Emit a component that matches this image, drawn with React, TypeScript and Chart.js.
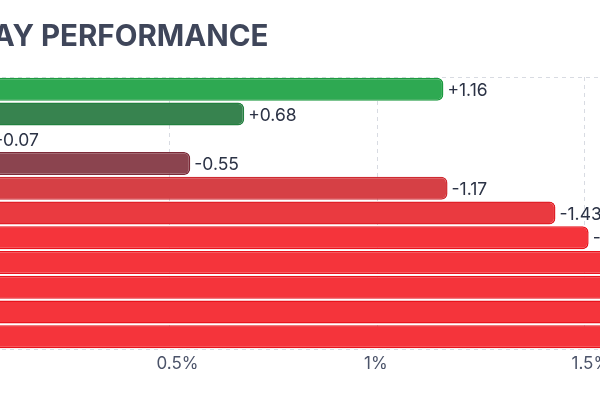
import React, { useEffect, useRef } from "react";
import { Chart, registerables } from "chart.js";

Chart.register(...registerables);

const categories = ["NZD", "AUD", "CAD", "GBP", "EUR", "CHF", "SEK", "NOK", "DKK", "JPY", "CNY"];
const changes = [1.16, 0.68, -0.07, -0.55, -1.17, -1.43, -1.51, -1.62, -1.7, -1.84, -2.12];
const xTicks = [0, 0.5, 1, 1.5, 2];
const titleText = "1-DAY PERFORMANCE";

const AXIS_W = 140;
const PX_PER_UNIT = 415;
const X_MAX = 2;
const RIGHT_PAD = 60;
const CANVAS_W = AXIS_W + PX_PER_UNIT * X_MAX + RIGHT_PAD;
const CANVAS_H = 400;
const SHIFT = AXIS_W + 38.5;
const GRID = "#d8dbe2";

function fillFor(v: number) {
  if (v >= 1) return "#2ea952";
  if (v > 0) return "#37834f";
  if (v > -0.3) return "#6e5358";
  if (v > -1) return "#8b444f";
  if (v > -1.3) return "#d64045";
  if (v > -1.5) return "#ea3a40";
  return "#f5343b";
}
function borderFor(v: number) {
  if (v >= 1) return "#1c9a3f";
  if (v > 0) return "#22803f";
  if (v > -0.3) return "#5e3a40";
  if (v > -1) return "#7b2a38";
  if (v > -1.3) return "#cf2a31";
  if (v > -1.5) return "#e01f27";
  return "#e8131c";
}

const labelPlugin = {
  id: "endLabels",
  afterDatasetsDraw(chart: any) {
    const ctx = chart.ctx;
    const meta = chart.getDatasetMeta(0);
    ctx.save();
    ctx.font = "17.5px Inter";
    ctx.fillStyle = "#2b3245";
    ctx.textBaseline = "middle";
    ctx.textAlign = "left";
    meta.data.forEach((el: any, i: number) => {
      const v = changes[i];
      const t = (v > 0 ? "+" : "") + v.toFixed(2);
      ctx.fillText(t, el.x + 4, el.y + 1.5);
    });
    ctx.restore();
  },
};

const titlePlugin = {
  id: "customTitle",
  afterDraw(chart: any) {
    const ctx = chart.ctx;
    ctx.save();
    ctx.font = "bold 29.5px Inter";
    ctx.fillStyle = "#3f465a";
    ctx.textBaseline = "alphabetic";
    ctx.textAlign = "right";
    ctx.fillText(titleText, SHIFT + 268, 46);
    ctx.restore();
  },
};

export default function App() {
  const ref = useRef<HTMLCanvasElement>(null);
  useEffect(() => {
    if (!ref.current) return;
    const chart = new Chart(ref.current, {
      type: "bar",
      data: {
        labels: categories,
        datasets: [
          {
            data: changes.map((v) => Math.abs(v)),
            backgroundColor: changes.map(fillFor),
            borderColor: changes.map(borderFor),
            borderWidth: 1.5,
            borderRadius: 6,
            borderSkipped: false,
            barPercentage: 0.93,
            categoryPercentage: 1,
          },
        ],
      },
      options: {
        indexAxis: "y",
        responsive: false,
        animation: false,
        layout: { padding: { left: 0, top: 77, right: RIGHT_PAD, bottom: 0 } },
        plugins: { legend: { display: false }, tooltip: { enabled: false }, title: { display: false } },
        scales: {
          x: {
            min: 0,
            max: X_MAX,
            afterBuildTicks: (s: any) => {
              s.ticks = xTicks.map((v) => ({ value: v }));
            },
            afterFit: (s: any) => {
              s.height = 51;
            },
            grid: { color: GRID, drawTicks: false },
            border: { display: false, dash: [4, 4] },
            ticks: {
              padding: 5,
              align: "start",
              labelOffset: -13,
              color: "#4b5369",
              font: { family: "Inter", size: 17 },
              callback: (v: any) => v + "%",
            },
          },
          y: {
            afterFit: (s: any) => {
              s.width = AXIS_W;
            },
            grid: {
              drawTicks: false,
              color: (c: any) => (c.index === 0 || c.index === undefined ? GRID : "rgba(0,0,0,0)"),
            },
            border: { display: false, dash: [4, 4] },
            ticks: { color: "#4b5369", font: { family: "Inter", size: 15 }, padding: 10 },
          },
        },
      },
      plugins: [labelPlugin, titlePlugin],
    });
    return () => chart.destroy();
  }, []);
  return (
    <div style={{ position: "fixed", left: 0, top: 0, width: 600, height: 400, overflow: "hidden", background: "#fff" }}>
      <canvas
        ref={ref}
        width={CANVAS_W}
        height={CANVAS_H}
        style={{ position: "absolute", left: -SHIFT, top: 0, width: CANVAS_W, height: CANVAS_H }}
      />
    </div>
  );
}
